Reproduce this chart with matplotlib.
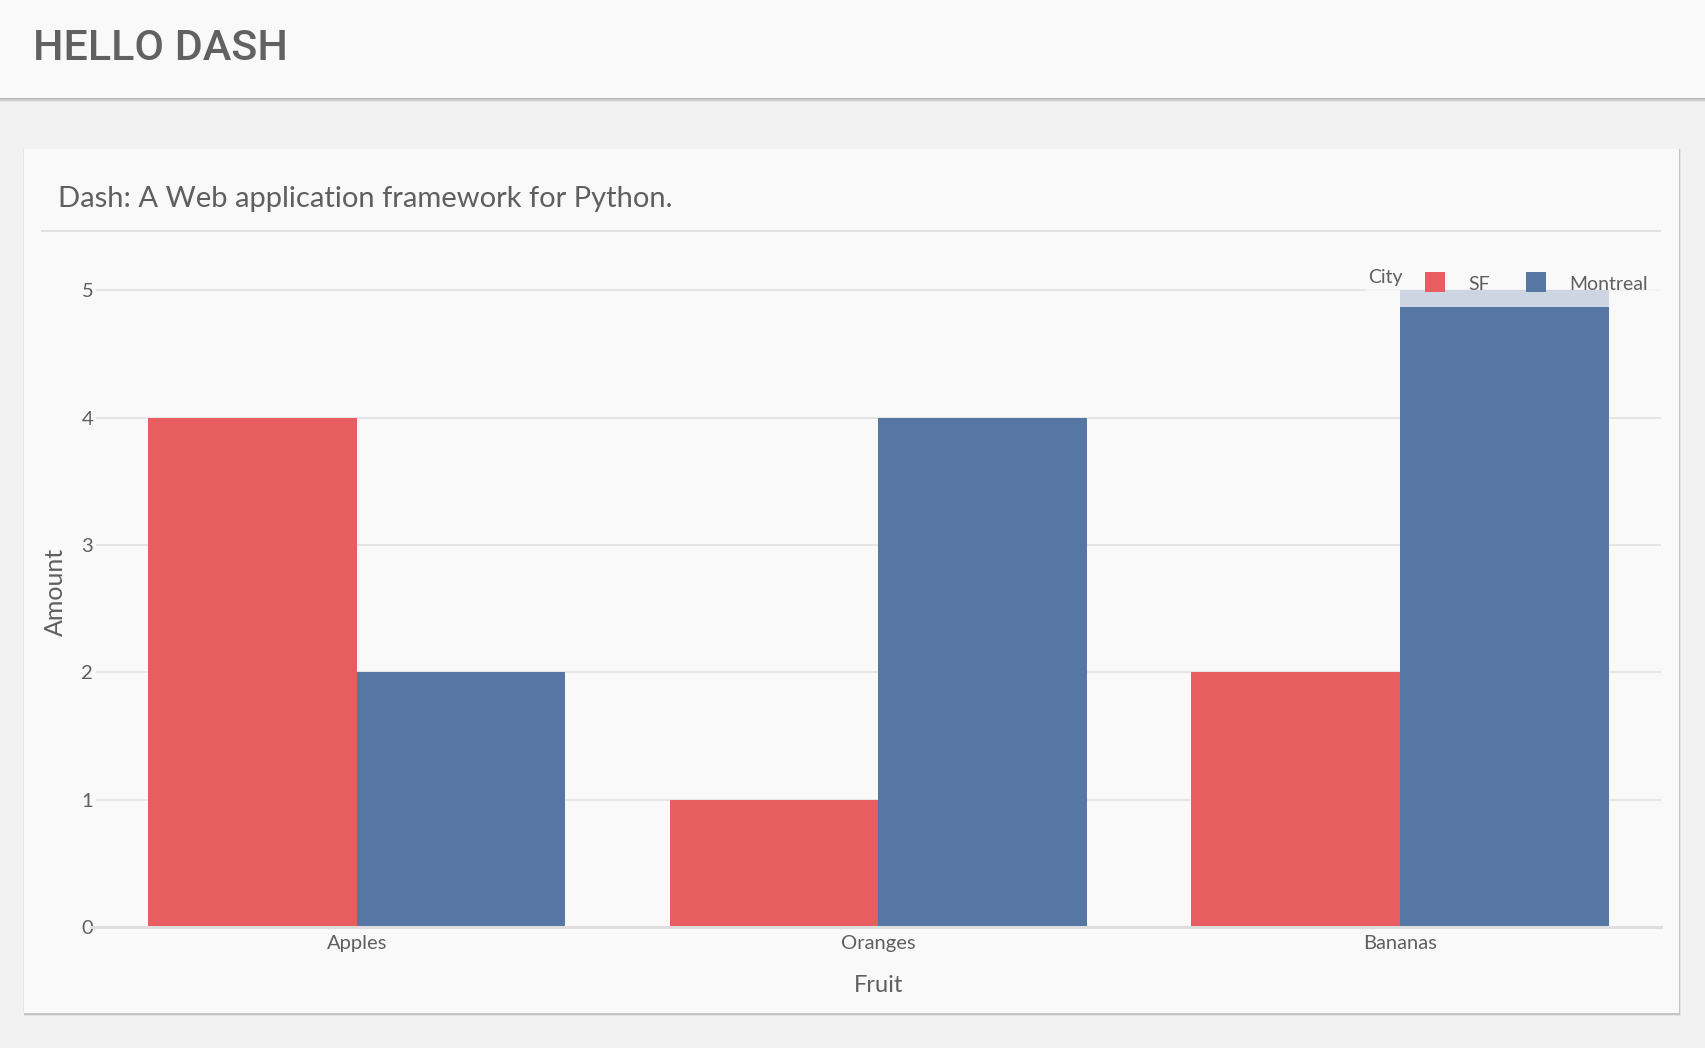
import numpy as np
import matplotlib
matplotlib.use('Agg')
import matplotlib.pyplot as plt
from matplotlib.patches import Rectangle

# Data
fruits = ['Apples', 'Oranges', 'Bananas']
cities = ['SF', 'Montreal']
sf_amount = [4, 1, 2]
montreal_amount = [2, 4, 5]
city_colors = ['#e75d60', '#5677a4']

W, H = 1706, 1048
fig = plt.figure(figsize=(W / 100, H / 100), dpi=100)
fig.patch.set_facecolor('#f2f2f2')

def px(x0, y0, x1, y1):
    # pixel box (top-left origin) -> figure fraction rectangle args
    return (x0 / W, 1 - y1 / H), (x1 - x0) / W, (y1 - y0) / H

def page_box(x0, y0, x1, y1, color):
    xy, w, h = px(x0, y0, x1, y1)
    fig.patches.append(Rectangle(xy, w, h, transform=fig.transFigure,
                                 facecolor=color, edgecolor='none', zorder=-1))

text_gray = '#5f5f5f'

# Header bar with shadow
for off, c in [(4, '#e6e6e6'), (2.5, '#cfcfcf'), (1.2, '#b5b5b5')]:
    page_box(0, 0, W, 98 + off, c)
page_box(0, 0, W, 98, '#f9f9f9')
fig.text(33 / W, 1 - 48 / H, 'HELLO DASH', fontsize=31, family='Roboto',
         fontweight='medium', color='#616161', ha='left', va='center')

# Card with shadow
for off, c in [(3, '#e4e4e4'), (1.5, '#c4c4c4')]:
    page_box(24, 149, 1679 + off * 0.6, 1013 + off, c)
page_box(23, 149, 24, 1013, '#e6e6e6')
page_box(24, 149, 1679, 1013, '#f9f9f9')
fig.text(58 / W, 1 - 199 / H, 'Dash: A Web application framework for Python.',
         fontsize=21, family='Lato', color=text_gray, ha='left', va='center')
page_box(41, 230, 1661, 232, '#e2e2e2')

# Plot area
ax = fig.add_axes([96 / W, 1 - 927 / H, (1661 - 96) / W, (927 - 257) / H])
ax.set_facecolor('#f9f9f9')
x = np.arange(len(fruits))
bw = 0.4
ax.bar(x - bw / 2, sf_amount, width=bw, color=city_colors[0], zorder=3, label=cities[0])
ax.bar(x + bw / 2, montreal_amount, width=bw, color=city_colors[1], zorder=3, label=cities[1])

ax.set_xlim(-0.5, len(fruits) - 0.5)
ax.set_ylim(0, max(max(sf_amount), max(montreal_amount)) * 1.0526)
ax.set_yticks(range(0, 6))
ax.set_xticks(x)
ax.set_xticklabels(fruits)
ax.grid(axis='y', color='#e2e2e2', linewidth=1.2, zorder=0)
ax.axhline(0, color='#dedede', linewidth=2.2, zorder=4, xmin=-0.003, clip_on=False)
for s in ax.spines.values():
    s.set_visible(False)
ax.tick_params(length=0, labelsize=14.5, labelcolor=text_gray)
ax.tick_params(axis='x', pad=6)
ax.tick_params(axis='y', pad=2)
for t in ax.get_xticklabels() + ax.get_yticklabels():
    t.set_family('Lato')

ax.set_xlabel('Fruit', fontsize=17, family='Lato', color=text_gray, va='center')
ax.xaxis.set_label_coords(0.5, -0.088)
ax.set_ylabel('Amount', fontsize=18, family='Lato', color=text_gray, va='center')
ax.yaxis.set_label_coords(-0.026, 0.5)

# Legend (drawn over the bars, semi-transparent like the original)
lx0, lx1, ly0, ly1 = 1365, 1662, 262, 307
xy, w, h = px(lx0, ly0, lx1, ly1)
ax.add_patch(Rectangle(xy, w, h, transform=fig.transFigure, facecolor='#f9f9f9',
                       alpha=0.73, edgecolor='none', zorder=6, clip_on=False))
fig.text(1368 / W, 1 - 278 / H, 'City', fontsize=14, family='Lato',
         color=text_gray, ha='left', va='center', zorder=7)
sw_x = [1425, 1526]
tx_x = [1468, 1569]
for name, col, sx, tx in zip(cities, city_colors, sw_x, tx_x):
    xy, w, h = px(sx, 272, sx + 20, 292)
    ax.add_patch(Rectangle(xy, w, h, transform=fig.transFigure, facecolor=col,
                           edgecolor='none', zorder=7, clip_on=False))
    fig.text(tx / W, 1 - 284 / H, name, fontsize=14, family='Lato',
             color=text_gray, ha='left', va='center', zorder=7)

fig.savefig('out.png', dpi=100, facecolor=fig.get_facecolor())
